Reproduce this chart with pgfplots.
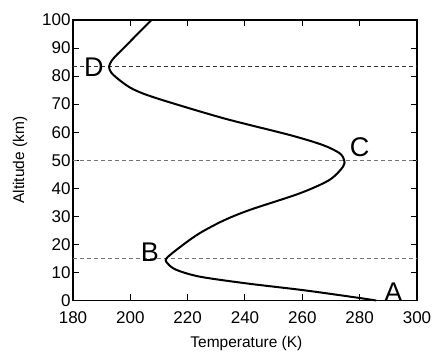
\documentclass[border=0pt]{standalone}
\usepackage{pgfplots}
\pgfplotsset{compat=1.18}
\usepackage{fontspec}
\setmainfont{Liberation Sans}
\begin{document}
\begin{tikzpicture}
\begin{axis}[
  scale only axis, width=344pt, height=280.5pt,
  xmin=180, xmax=300, ymin=0, ymax=100,
  xtick={180,200,...,300}, ytick={0,10,...,100},
  tick align=inside, major tick length=6pt,
  axis line style={line width=1.4pt},
  tick style={line width=1pt, black},
  ticklabel style={font=\fontsize{17}{17}\selectfont},
  xticklabel style={yshift=-8pt},
  yticklabel style={xshift=1pt},
  /pgf/number format/assume math mode=true,
  xlabel={Temperature (K)}, ylabel={Altitude (km)},
  label style={font=\fontsize{15.5}{15.5}\selectfont},
  xlabel style={at={(axis description cs:0.504,-0.153)}, anchor=center},
  ylabel style={at={(axis description cs:-0.154,0.5)}, anchor=center},
  clip=false,
]
\addplot[black!55, line width=1.1pt, dash pattern=on 4pt off 3pt] coordinates {(180,15) (300,15)};
\addplot[black!55, line width=1.1pt, dash pattern=on 4pt off 3pt] coordinates {(180,50) (300,50)};
\addplot[black!80, line width=1.1pt, dash pattern=on 4pt off 3pt] coordinates {(180,83.4) (300,83.4)};
\addplot[black, line width=2pt, smooth] coordinates {
(285.8,0) (276.5,1.4) (260.2,3.7) (240.5,6.1) (224.2,8.5) (216.1,10.9) (213.2,13) (212.6,15)
(218.2,19.7) (224.2,24) (232.5,28.5) (241.7,32.3) (259.1,38.2) (269.5,43) (274.2,47.7) (274.6,50)
(273,52.5) (267.2,55.4) (255.6,59) (232.4,65) (209.2,72.1) (201,75.3) (196.3,78.5) (193.3,81.3)
(192.6,83.4) (193.5,85.5) (195.5,87.8) (198,90.3) (202.5,95) (207.4,100)};
\node[font=\fontsize{27}{27}\selectfont] at (axis cs:187.3,83.1) {D};
\node[font=\fontsize{27}{27}\selectfont] at (axis cs:280,54.7) {C};
\node[font=\fontsize{27}{27}\selectfont] at (axis cs:206.8,17.1) {B};
\node[font=\fontsize{27}{27}\selectfont] at (axis cs:291.8,2.9) {A};
\end{axis}
\pgfresetboundingbox
\path (-73pt,-51.5pt) rectangle (364pt,300.5pt);
\end{tikzpicture}
\end{document}
